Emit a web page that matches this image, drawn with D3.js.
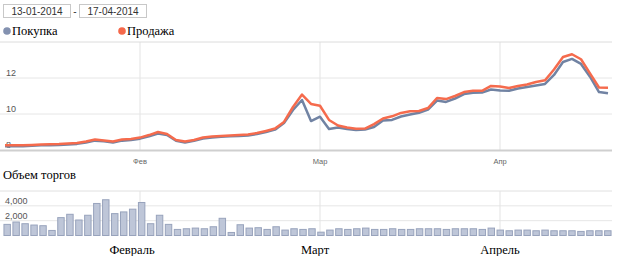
<!DOCTYPE html>
<html><head><meta charset="utf-8">
<script src="https://cdn.jsdelivr.net/npm/d3@7"></script>
<style>body{margin:0;background:#fff;} svg{display:block}</style>
</head><body>
<svg id="c" width="617" height="256"></svg>
<script>
const dates = [
 "2014-01-13","2014-01-14","2014-01-15","2014-01-16","2014-01-17",
 "2014-01-20","2014-01-21","2014-01-22","2014-01-23","2014-01-24",
 "2014-01-27","2014-01-28","2014-01-29","2014-01-30","2014-01-31",
 "2014-02-03","2014-02-04","2014-02-05","2014-02-06","2014-02-07",
 "2014-02-10","2014-02-11","2014-02-12","2014-02-13","2014-02-14",
 "2014-02-17","2014-02-18","2014-02-19","2014-02-20","2014-02-21",
 "2014-02-24","2014-02-25","2014-02-26","2014-02-27","2014-02-28",
 "2014-03-03","2014-03-04","2014-03-05","2014-03-06","2014-03-07",
 "2014-03-11","2014-03-12","2014-03-13","2014-03-14",
 "2014-03-17","2014-03-18","2014-03-19","2014-03-20","2014-03-21",
 "2014-03-24","2014-03-25","2014-03-26","2014-03-27","2014-03-28",
 "2014-03-31",
 "2014-04-01","2014-04-02","2014-04-03","2014-04-04",
 "2014-04-07","2014-04-08","2014-04-09","2014-04-10","2014-04-11",
 "2014-04-14","2014-04-15","2014-04-16","2014-04-17"
];
const buy = [
 8.21,8.21,8.21,8.23,8.26,8.27,8.28,8.31,8.34,8.42,
 8.52,8.48,8.42,8.52,8.56,8.63,8.76,8.92,8.83,8.51,
 8.42,8.51,8.64,8.70,8.73,8.76,8.78,8.81,8.89,9.00,
 9.13,9.50,10.22,10.78,9.61,9.85,9.17,9.25,9.17,9.11,
 9.14,9.28,9.64,9.67,9.86,9.97,10.07,10.25,10.75,10.67,
 10.86,11.11,11.18,11.19,11.36,11.31,11.29,11.42,11.50,11.58,
 11.67,12.17,12.89,13.06,12.78,12.07,11.22,11.15
];
const sell = [
 8.26,8.26,8.26,8.28,8.31,8.32,8.33,8.36,8.39,8.47,
 8.58,8.53,8.47,8.58,8.61,8.69,8.83,9.00,8.89,8.56,
 8.47,8.56,8.69,8.75,8.78,8.81,8.83,8.86,8.94,9.06,
 9.19,9.56,10.39,11.08,10.56,10.46,9.67,9.36,9.25,9.18,
 9.19,9.44,9.75,9.87,10.06,10.15,10.17,10.33,10.89,10.83,
 11.00,11.22,11.29,11.29,11.56,11.53,11.44,11.56,11.64,11.78,
 11.87,12.47,13.17,13.32,13.04,12.26,11.47,11.46
];
const volume = [
 1500,1820,1590,1410,1320,680,2410,2860,2090,2730,
 4320,4820,2950,3180,3550,4450,1590,2730,1500,820,
 910,1000,910,1180,2320,410,1450,1000,1050,820,
 1180,730,910,820,910,450,730,910,820,910,
 1000,820,820,910,820,820,910,910,910,820,
 910,910,910,820,1000,730,640,730,730,640,
 730,640,640,640,550,640,640,640
];
const priceTicks = [8, 10, 12];
const volumeTicks = [0, 2000, 4000];
const monthStarts = ["2014-02-03","2014-03-03","2014-04-01"];
const monthShort = ["Фев","Мар","Апр"];
const monthFull = ["Февраль","Март","Апрель"];
const legendLabels = ["Покупка","Продажа"];
const dateRange = ["13-01-2014","17-04-2014"];
const volumeTitle = "Объем торгов";

const svg = d3.select("#c");
const BLUE = "#7183a3", RED = "#f56b4d";
const serif = "'Liberation Serif','Times New Roman',serif";
const sans = "'Liberation Sans',Arial,sans-serif";

// date range boxes
const boxX = [3.5, 79.5];
dateRange.forEach((t, i) => {
  svg.append("rect").attr("x", boxX[i]).attr("y", 4.5).attr("width", 67).attr("height", 13)
    .attr("fill", "#fff").attr("stroke", "#c8c8c8");
  svg.append("text").attr("x", boxX[i] + 33.5).attr("y", 14.5).attr("text-anchor", "middle")
    .attr("font-family", sans).attr("font-size", 10).attr("fill", "#333").text(t);
});
svg.append("text").attr("x", 75).attr("y", 14.5).attr("text-anchor", "middle")
  .attr("font-family", sans).attr("font-size", 10).attr("fill", "#333").text("-");

// legend
const legendX = [7, 122];
const legendCol = ["#8391b0", "#f5684a"];
legendLabels.forEach((t, i) => {
  svg.append("circle").attr("cx", legendX[i]).attr("cy", 31).attr("r", 3.8).attr("fill", legendCol[i]);
  svg.append("text").attr("x", legendX[i] + 5).attr("y", 35).attr("font-family", serif)
    .attr("font-size", 12.5).attr("fill", "#000").text(t);
});

// scales
const x = d3.scalePoint().domain(dates).range([5, 608]);
const y = d3.scaleLinear().domain([8, 14]).range([150, 42]);
const xb = d3.scaleBand().domain(dates).range([3, 612]).paddingInner(0.17).paddingOuter(0.05);
const yv = d3.scaleLinear().domain([0, 6000]).range([235.5, 191]);

// price grid
const pg = svg.append("g");
pg.selectAll("line.v").data(monthStarts).join("line")
  .attr("x1", d => x(d)).attr("x2", d => x(d)).attr("y1", 42).attr("y2", 150)
  .attr("stroke", "#e3e3e3");
pg.append("line").attr("x1", 0).attr("x2", 612).attr("y1", y(14)).attr("y2", y(14)).attr("stroke", "#dcdcdc");
pg.selectAll("line.h").data(priceTicks.slice(1)).join("line")
  .attr("x1", 0).attr("x2", 612).attr("y1", d => y(d)).attr("y2", d => y(d)).attr("stroke", "#e6e6e6");
pg.append("line").attr("x1", 0).attr("x2", 612).attr("y1", 150.5).attr("y2", 150.5)
  .attr("stroke", "#cfcfcf").attr("stroke-width", 2);
pg.selectAll("text.t").data(priceTicks).join("text")
  .attr("x", 6).attr("y", d => y(d) - 2).attr("font-family", sans).attr("font-size", 9)
  .attr("fill", "#555").text(d => d);
pg.selectAll("text.m").data(monthStarts).join("text")
  .attr("x", d => x(d)).attr("y", 164).attr("text-anchor", "middle")
  .attr("font-family", sans).attr("font-size", 7.5).attr("fill", "#666")
  .text((d, i) => monthShort[i]);

// lines
const line = vals => d3.line().x((d, i) => x(dates[i])).y(d => y(d))(vals);
svg.append("path").attr("d", line(buy)).attr("fill", "none").attr("stroke", BLUE)
  .attr("stroke-width", 2.5).attr("stroke-linejoin", "round");
svg.append("path").attr("d", line(sell)).attr("fill", "none").attr("stroke", RED)
  .attr("stroke-width", 2.5).attr("stroke-linejoin", "round");

// volume title
svg.append("text").attr("x", 3).attr("y", 179).attr("font-family", serif).attr("font-size", 12.5)
  .attr("fill", "#000").text(volumeTitle);

// volume grid
const vg = svg.append("g");
vg.append("line").attr("x1", 0).attr("x2", 612).attr("y1", yv(6000)).attr("y2", yv(6000)).attr("stroke", "#e0e0e0");
vg.selectAll("line.h").data(volumeTicks.slice(1)).join("line")
  .attr("x1", 0).attr("x2", 612).attr("y1", d => yv(d)).attr("y2", d => yv(d)).attr("stroke", "#e6e6e6");
vg.selectAll("line.v").data(monthStarts).join("line")
  .attr("x1", d => x(d)).attr("x2", d => x(d)).attr("y1", 191).attr("y2", 236)
  .attr("stroke", "#e3e3e3");
vg.selectAll("text.t").data(volumeTicks).join("text")
  .attr("x", 5).attr("y", d => yv(d) - 2).attr("font-family", sans).attr("font-size", 9)
  .attr("fill", "#555").text(d => d3.format(",")(d));

// bars
svg.append("g").selectAll("rect").data(volume).join("rect")
  .attr("x", (d, i) => xb(dates[i]) + 0.5).attr("width", xb.bandwidth() - 1)
  .attr("y", d => yv(d)).attr("height", d => yv(0) - yv(d))
  .attr("fill", "#bec6d8").attr("stroke", "#98a3bc").attr("stroke-width", 1);

// month full labels
const fullOffset = [-8, -5, 0];
svg.selectAll("text.mf").data(monthStarts).join("text")
  .attr("x", (d, i) => x(d) + fullOffset[i]).attr("y", 254).attr("text-anchor", "middle")
  .attr("font-family", serif).attr("font-size", 12.5).attr("fill", "#000")
  .text((d, i) => monthFull[i]);
</script>
</body></html>
